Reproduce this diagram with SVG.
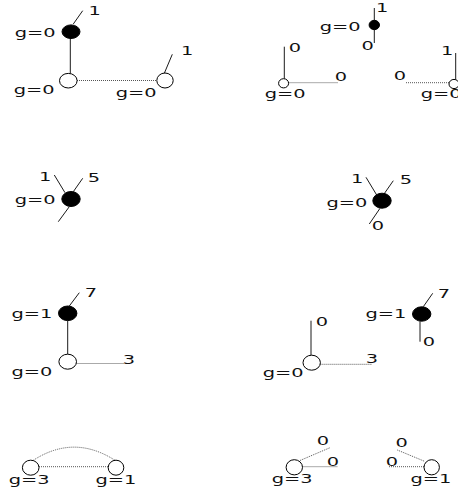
<svg xmlns="http://www.w3.org/2000/svg" width="458" height="493" viewBox="0 0 458 493">
<style>
.t{font-family:"DejaVu Sans",Verdana,sans-serif;font-size:12.5px;fill:#111}
.b{fill:#000;stroke:#000;stroke-width:1}
.w{fill:#fff;stroke:#000;stroke-width:1}
.s{stroke:#000;stroke-width:0.9;fill:none}
.d{stroke:#555;stroke-width:1;stroke-dasharray:1 1;fill:none}
</style>
<rect width="458" height="493" fill="#fff"/>
<g id="connectors">
  <line class="s" x1="73.3" y1="24" x2="82.7" y2="10.7"/>
  <line class="s" x1="70.3" y1="38" x2="70.3" y2="73.5"/>
  <line class="d" x1="77" y1="80.5" x2="157" y2="80.5"/>
  <line class="s" x1="164.3" y1="73.3" x2="172.3" y2="54.3"/>
  <line class="s" x1="374.3" y1="8" x2="374.3" y2="43"/>
  <line class="s" x1="284.3" y1="46.7" x2="284.3" y2="78.7"/>
  <line class="d" x1="288.5" y1="82.7" x2="338" y2="82.7"/>
  <line class="d" x1="406" y1="82.7" x2="449" y2="82.7"/>
  <line class="s" x1="455.7" y1="53" x2="455.7" y2="79.5"/>
  <line class="s" x1="54.3" y1="175" x2="65" y2="192.7"/>
  <line class="s" x1="82.7" y1="178.3" x2="73.3" y2="191.7"/>
  <line class="s" x1="69.3" y1="206.7" x2="58.3" y2="221.7"/>
  <line class="s" x1="366" y1="177.3" x2="376.7" y2="195"/>
  <line class="s" x1="393.3" y1="180.7" x2="384" y2="194"/>
  <line class="s" x1="380" y1="208.3" x2="369.3" y2="224"/>
  <line class="s" x1="69.3" y1="306" x2="79.3" y2="292.7"/>
  <line class="s" x1="67.7" y1="320.7" x2="67.7" y2="354.2"/>
  <line class="d" x1="76.5" y1="363.5" x2="124" y2="363.5"/>
  <line class="s" x1="423.3" y1="306.7" x2="432.7" y2="293.3"/>
  <line class="s" x1="420" y1="321.2" x2="420" y2="341.7"/>
  <line class="s" x1="311" y1="320.7" x2="311" y2="355.2"/>
  <line class="d" x1="320.4" y1="364.3" x2="371.7" y2="364.3"/>
  <line class="d" x1="39" y1="466.7" x2="108.2" y2="466.7"/>
  <path class="d" d="M33.3 460.3 Q74 434 115 460.3"/>
  <line class="d" x1="300" y1="460.5" x2="330" y2="447.7"/>
  <line class="d" x1="302.5" y1="466.7" x2="337.3" y2="466.7"/>
  <line class="d" x1="397.3" y1="450" x2="425" y2="461.5"/>
  <line class="d" x1="389" y1="466.7" x2="424" y2="466.7"/>
</g>
<g id="n1">
  <ellipse class="b" cx="71" cy="31.7" rx="9" ry="6.8"/>
  <text class="t" transform="translate(14.8,37) scale(1.55,1)">g=0</text>
  <text class="t" transform="translate(88.6,15) scale(1.55,1)">1</text>
</g>
<g id="n2">
  <ellipse class="w" cx="68.3" cy="80.7" rx="8.8" ry="7.3"/>
  <text class="t" transform="translate(13.8,94.3) scale(1.55,1)">g=0</text>
</g>
<g id="n3">
  <ellipse class="w" cx="165" cy="80.5" rx="8.2" ry="7.5"/>
  <text class="t" transform="translate(115.8,96.5) scale(1.55,1)">g=0</text>
  <text class="t" transform="translate(181,55) scale(1.55,1)">1</text>
</g>
<g id="n4">
  <ellipse class="b" cx="374.3" cy="25" rx="5.2" ry="4.7"/>
  <text class="t" transform="translate(319.8,30.7) scale(1.55,1)">g=0</text>
  <text class="t" transform="translate(376,11.7) scale(1.55,1)">1</text>
  <text class="t" transform="translate(361.4,50) scale(1.55,1)">0</text>
</g>
<g id="n5">
  <ellipse class="w" cx="283.6" cy="83.3" rx="5" ry="4.6"/>
  <text class="t" transform="translate(264.8,98) scale(1.55,1)">g=0</text>
  <text class="t" transform="translate(288.7,52) scale(1.55,1)">0</text>
  <text class="t" transform="translate(334.7,80.7) scale(1.55,1)">0</text>
</g>
<g id="n6">
  <ellipse class="w" cx="454" cy="84" rx="5" ry="4.6"/>
  <text class="t" transform="translate(420.8,98) scale(1.55,1)">g=0</text>
  <text class="t" transform="translate(441,55) scale(1.55,1)">1</text>
  <text class="t" transform="translate(393.7,80) scale(1.55,1)">0</text>
</g>
<g id="n7">
  <ellipse class="b" cx="71" cy="199" rx="9.2" ry="7.5"/>
  <text class="t" transform="translate(14.8,204) scale(1.55,1)">g=0</text>
  <text class="t" transform="translate(39,180.7) scale(1.55,1)">1</text>
  <text class="t" transform="translate(87.7,181.7) scale(1.55,1)">5</text>
</g>
<g id="n8">
  <ellipse class="b" cx="382" cy="200.7" rx="9.2" ry="7.5"/>
  <text class="t" transform="translate(326.5,206.7) scale(1.55,1)">g=0</text>
  <text class="t" transform="translate(351,183) scale(1.55,1)">1</text>
  <text class="t" transform="translate(399.7,184) scale(1.55,1)">5</text>
  <text class="t" transform="translate(371.7,230) scale(1.55,1)">0</text>
</g>
<g id="n9">
  <ellipse class="b" cx="67.7" cy="313.3" rx="9.2" ry="7.3"/>
  <text class="t" transform="translate(11.5,317.7) scale(1.55,1)">g=1</text>
  <text class="t" transform="translate(84.7,296.7) scale(1.55,1)">7</text>
</g>
<g id="n10">
  <ellipse class="w" cx="67.7" cy="361.7" rx="8.8" ry="7.5"/>
  <text class="t" transform="translate(11.5,376) scale(1.55,1)">g=0</text>
  <text class="t" transform="translate(122.7,364.3) scale(1.55,1)">3</text>
</g>
<g id="n11">
  <ellipse class="b" cx="421.7" cy="314" rx="9.2" ry="7.2"/>
  <text class="t" transform="translate(365.5,318.3) scale(1.55,1)">g=1</text>
  <text class="t" transform="translate(437.7,298) scale(1.55,1)">7</text>
  <text class="t" transform="translate(422.7,346) scale(1.55,1)">0</text>
</g>
<g id="n12">
  <ellipse class="w" cx="311.7" cy="362.7" rx="8.7" ry="7.5"/>
  <text class="t" transform="translate(262.8,376.7) scale(1.55,1)">g=0</text>
  <text class="t" transform="translate(315.7,326) scale(1.55,1)">0</text>
  <text class="t" transform="translate(365.7,363.3) scale(1.55,1)">3</text>
</g>
<g id="n13">
  <ellipse class="w" cx="30.7" cy="467.7" rx="8.3" ry="7.5"/>
  <text class="t" transform="translate(8.8,484) scale(1.55,1)">g=3</text>
</g>
<g id="n14">
  <ellipse class="w" cx="116" cy="467.7" rx="7.8" ry="7.5"/>
  <text class="t" transform="translate(95.5,484) scale(1.55,1)">g=1</text>
</g>
<g id="n15">
  <ellipse class="w" cx="294.3" cy="467.3" rx="8.2" ry="7.6"/>
  <text class="t" transform="translate(271.8,483.3) scale(1.55,1)">g=3</text>
  <text class="t" transform="translate(316.7,445) scale(1.55,1)">0</text>
  <text class="t" transform="translate(326.7,466) scale(1.55,1)">0</text>
</g>
<g id="n16">
  <ellipse class="w" cx="431.7" cy="467.3" rx="7.7" ry="7.6"/>
  <text class="t" transform="translate(410.5,483.3) scale(1.55,1)">g=1</text>
  <text class="t" transform="translate(395.4,447.3) scale(1.55,1)">0</text>
  <text class="t" transform="translate(385.7,466) scale(1.55,1)">0</text>
</g>
</svg>
